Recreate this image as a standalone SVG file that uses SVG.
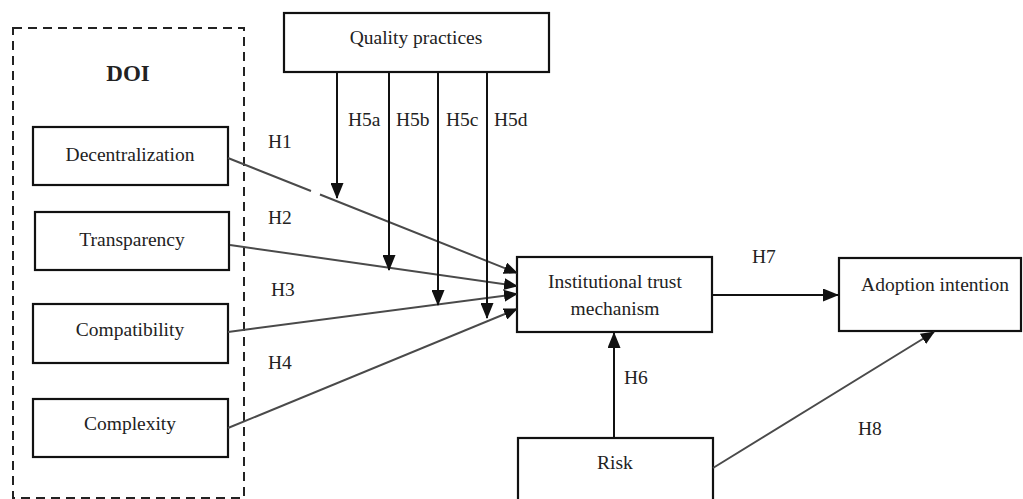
<svg xmlns="http://www.w3.org/2000/svg" width="1023" height="499" viewBox="0 0 1023 499">
<style>
.t{font-family:'Liberation Serif',serif;font-size:19.5px;fill:#222}
.m{text-anchor:middle}
.b{font-weight:bold;font-size:23px}
.box{fill:#fff;stroke:#111;stroke-width:2.2}
.g{stroke:#4a4a4a;stroke-width:2;fill:none}
.k{stroke:#111;stroke-width:2;fill:none}
</style>
<defs>
<marker id="ah" viewBox="0 0 14 12" refX="13" refY="6" markerWidth="14" markerHeight="12" markerUnits="userSpaceOnUse" orient="auto">
<path d="M0,0 L14,6 L0,12 Z" fill="#111"/>
</marker>
<marker id="av" viewBox="0 0 16 13" refX="15" refY="6.5" markerWidth="16" markerHeight="13" markerUnits="userSpaceOnUse" orient="auto">
<path d="M0,0 L16,6.5 L0,13 Z" fill="#111"/>
</marker>
</defs>
<rect width="1023" height="499" fill="#fff"/>
<g id="doi">
<rect x="13" y="28" width="231" height="470" fill="none" stroke="#222" stroke-width="2" stroke-dasharray="9,6"/>
<text x="128" y="81" class="t m b">DOI</text>
</g>
<g id="decentralization"><rect class="box" x="33" y="127" width="195" height="58"/><text x="130" y="161" class="t m">Decentralization</text></g>
<g id="transparency"><rect class="box" x="35" y="212" width="194" height="58"/><text x="132" y="246" class="t m">Transparency</text></g>
<g id="compatibility"><rect class="box" x="33" y="304" width="195" height="59"/><text x="130" y="336" class="t m">Compatibility</text></g>
<g id="complexity"><rect class="box" x="33" y="399" width="195" height="58"/><text x="130" y="430" class="t m">Complexity</text></g>
<g id="quality"><rect class="box" x="284" y="13" width="265" height="59"/><text x="416" y="44" class="t m">Quality practices</text></g>
<g id="trust"><rect class="box" x="517" y="257" width="195" height="75"/><text x="615" y="288" class="t m">Institutional trust</text><text x="615" y="315" class="t m">mechanism</text></g>
<g id="adoption"><rect class="box" x="839" y="258" width="182" height="73"/><text x="935" y="291" class="t m">Adoption intention</text></g>
<g id="risk"><rect class="box" x="518" y="438" width="195" height="70"/><text x="615" y="469" class="t m">Risk</text></g>
<g id="connectors">
<path class="g" d="M228,158 L311,191 M320,194.5 L517,273" marker-end="url(#ah)"/>
<line class="g" x1="230" y1="245" x2="517" y2="286" marker-end="url(#ah)"/>
<line class="g" x1="228" y1="332" x2="517" y2="294" marker-end="url(#ah)"/>
<line class="g" x1="228" y1="428" x2="517" y2="309" marker-end="url(#ah)"/>
<line class="k" x1="337" y1="72" x2="337" y2="198" marker-end="url(#av)"/>
<line class="k" x1="389" y1="72" x2="389" y2="270" marker-end="url(#av)"/>
<line class="k" x1="438" y1="72" x2="438" y2="305" marker-end="url(#av)"/>
<line class="k" x1="487" y1="72" x2="487" y2="318" marker-end="url(#av)"/>
<line class="k" x1="712" y1="295" x2="838" y2="295" marker-end="url(#av)"/>
<line class="k" x1="614" y1="438" x2="614" y2="333" marker-end="url(#av)"/>
<line class="g" x1="713" y1="468" x2="934" y2="332" marker-end="url(#ah)"/>
</g>
<g id="labels">
<text x="268" y="148" class="t">H1</text>
<text x="268" y="224" class="t">H2</text>
<text x="271" y="296" class="t">H3</text>
<text x="268" y="369" class="t">H4</text>
<text x="348" y="126" class="t">H5a</text>
<text x="396" y="126" class="t">H5b</text>
<text x="446" y="126" class="t">H5c</text>
<text x="494" y="126" class="t">H5d</text>
<text x="752" y="263" class="t">H7</text>
<text x="624" y="384" class="t">H6</text>
<text x="858" y="435" class="t">H8</text>
</g>
</svg>
